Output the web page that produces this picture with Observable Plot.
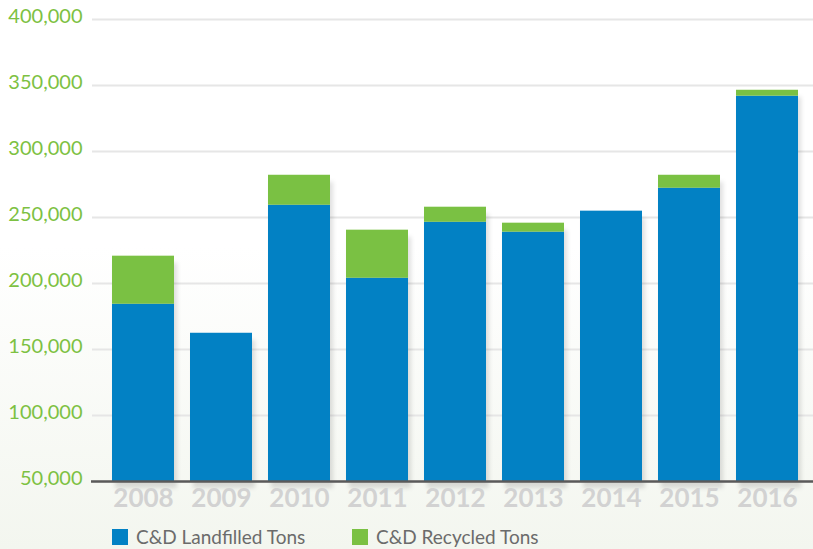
<!DOCTYPE html>
<html>
<head>
<meta charset="utf-8">
<script src="https://cdn.jsdelivr.net/npm/d3@7"></script>
<script src="https://cdn.jsdelivr.net/npm/@observablehq/plot@0.6"></script>
<style>
  html, body { margin: 0; padding: 0; }
  body {
    width: 813px; height: 549px; overflow: hidden;
    background: linear-gradient(to bottom, #ffffff 0%, #ffffff 45%, #f3f6ef 100%);
    font-family: Lato, "Open Sans", sans-serif;
  }
  .shadow { filter: blur(2px); }
  .legend { position: relative; height: 31px; }
  .legend .item { position: absolute; top: 11px; display: flex; align-items: center; color: #6b6b6b; font-size: 19px; line-height: 16px; }
  .legend .sw { width: 16px; height: 16px; margin-right: 8px; }
</style>
</head>
<body>
<div id="chart"></div>
<div class="legend" id="legend"></div>
<script>
const years = ["2008","2009","2010","2011","2012","2013","2014","2015","2016"];
const landfilled = [184300, 162300, 259300, 204000, 246400, 238900, 254800, 272200, 341900];
const recycled   = [36400, 0, 22700, 36400, 11400, 6800, 0, 9800, 4500];
const yTicks = [50000, 100000, 150000, 200000, 250000, 300000, 350000, 400000];
const seriesNames = ["C&D Landfilled Tons", "C&D Recycled Tons"];
const seriesColors = ["#0281c4", "#7ac143"];

const base = yTicks[0];
const rows = years.map((yr, i) => ({
  year: yr,
  landfilled: landfilled[i],
  total: landfilled[i] + recycled[i]
}));

const chart = Plot.plot({
  width: 813,
  height: 518,
  marginTop: 19,
  marginBottom: 37,
  marginLeft: 92,
  marginRight: 0,
  style: { background: "transparent", fontFamily: "Lato, 'Open Sans', sans-serif" },
  x: { domain: years, paddingInner: 0.2, paddingOuter: 0.1, insetLeft: 10, insetRight: 5.5, label: null },
  y: { domain: [yTicks[0], yTicks[yTicks.length - 1]], label: null },
  marks: [
    Plot.gridY(yTicks, { stroke: "#e6e6e6", strokeOpacity: 1, strokeWidth: 2 }),
    Plot.barY(rows, { x: "year", y1: () => base, y2: "total", fill: "#000", fillOpacity: 0.12, dx: 3, dy: 7, className: "shadow" }),
    Plot.barY(rows, { x: "year", y1: () => base, y2: "landfilled", fill: seriesColors[0] }),
    Plot.barY(rows.filter(d => d.total > d.landfilled), { x: "year", y1: "landfilled", y2: "total", fill: seriesColors[1] }),
    Plot.axisY(yTicks, { tickSize: 0, tickPadding: 10, fontSize: 20, dy: -3, fill: "#7dc142", tickFormat: d3.format(","), label: null }),
    Plot.axisX({ tickSize: 0, tickPadding: 7, fontSize: 26, fontWeight: "bold", fill: "#d2d2d2", label: null }),
    Plot.ruleY([base], { stroke: "#5a5a5a", strokeWidth: 2.5, insetLeft: -1 })
  ]
});
document.getElementById("chart").appendChild(chart);

const legend = document.getElementById("legend");
const lefts = [112, 352];
seriesNames.forEach((name, i) => {
  const item = document.createElement("div");
  item.className = "item";
  item.style.left = lefts[i] + "px";
  const sw = document.createElement("span");
  sw.className = "sw";
  sw.style.background = seriesColors[i];
  const t = document.createElement("span");
  t.textContent = name;
  item.appendChild(sw);
  item.appendChild(t);
  legend.appendChild(item);
});
</script>
</body>
</html>
